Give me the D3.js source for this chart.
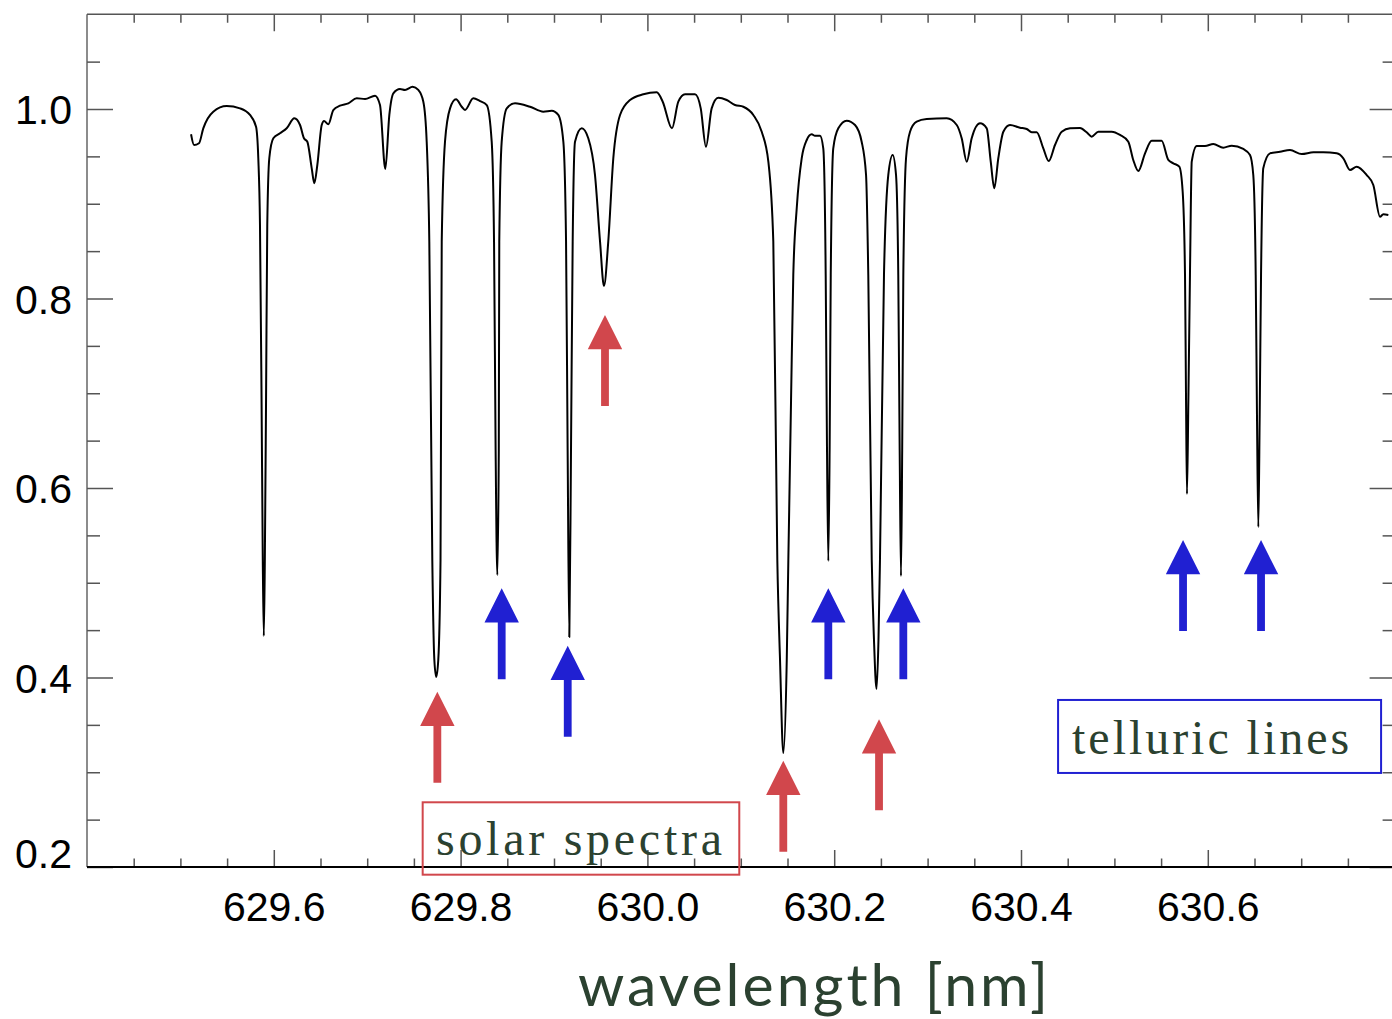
<!DOCTYPE html>
<html>
<head>
<meta charset="utf-8">
<script src="https://cdn.jsdelivr.net/npm/d3@7"></script>
<style>
body { margin: 0; background: #fff; }
.axis text { font-family: "Liberation Sans", Arial, Helvetica, sans-serif; font-size: 41px; fill: #000; }
.axis line { stroke: #555; stroke-width: 1.5; }
.axis path { display: none; }
</style>
</head>
<body>
<div id="chart"></div>
<script>
// spectrum: wavelength [nm] and normalised intensity
const wavelength = [
    629.5114, 629.5146, 629.5199, 629.5245, 629.5352, 629.5496, 629.5638, 629.5745, 629.5810, 629.5834,
    629.5852, 629.5869, 629.5882, 629.5893, 629.5904, 629.5917, 629.5930, 629.5952, 629.5995, 629.6066,
    629.6138, 629.6220, 629.6281, 629.6323, 629.6359, 629.6406, 629.6434, 629.6466, 629.6513, 629.6538,
    629.6584, 629.6637, 629.6709, 629.6798, 629.6888, 629.6977, 629.7084, 629.7137, 629.7194, 629.7237,
    629.7280, 629.7351, 629.7405, 629.7487, 629.7547, 629.7601, 629.7637, 629.7665, 629.7697, 629.7719,
    629.7739, 629.7761, 629.7785, 629.7798, 629.7833, 629.7887, 629.7951, 629.8012, 629.8047, 629.8136,
    629.8208, 629.8280, 629.8333, 629.8358, 629.8375, 629.8393, 629.8409, 629.8414, 629.8440, 629.8494,
    629.8583, 629.8743, 629.8886, 629.8976, 629.9046, 629.9100, 629.9129, 629.9146, 629.9164, 629.9182,
    629.9200, 629.9225, 629.9297, 629.9367, 629.9439, 629.9493, 629.9535, 629.9581, 629.9635, 629.9707,
    629.9814, 629.9956, 630.0100, 630.0164, 630.0263, 630.0331, 630.0403, 630.0510, 630.0571, 630.0627,
    630.0688, 630.0759, 630.0849, 630.0938, 630.1027, 630.1134, 630.1224, 630.1295, 630.1348, 630.1391,
    630.1420, 630.1455, 630.1492, 630.1509, 630.1538, 630.1562, 630.1599, 630.1652, 630.1706, 630.1759,
    630.1794, 630.1848, 630.1883, 630.1909, 630.1923, 630.1937, 630.1951, 630.1963, 630.1990, 630.2044,
    630.2134, 630.2223, 630.2294, 630.2341, 630.2365, 630.2402, 630.2426, 630.2453, 630.2474, 630.2490,
    630.2533, 630.2579, 630.2626, 630.2662, 630.2686, 630.2701, 630.2715, 630.2728, 630.2740, 630.2769,
    630.2812, 630.2883, 630.2990, 630.3205, 630.3312, 630.3365, 630.3419, 630.3472, 630.3561, 630.3633,
    630.3676, 630.3714, 630.3757, 630.3811, 630.3882, 630.3989, 630.4061, 630.4115, 630.4168, 630.4239,
    630.4297, 630.4364, 630.4436, 630.4525, 630.4632, 630.4703, 630.4757, 630.4828, 630.4971, 630.5060,
    630.5149, 630.5202, 630.5256, 630.5328, 630.5399, 630.5506, 630.5577, 630.5631, 630.5695, 630.5731,
    630.5756, 630.5767, 630.5777, 630.5792, 630.5809, 630.5828, 630.5881, 630.5970, 630.6059, 630.6166,
    630.6256, 630.6380, 630.6452, 630.6487, 630.6513, 630.6527, 630.6541, 630.6555, 630.6570, 630.6594,
    630.6666, 630.6773, 630.6880, 630.7005, 630.7130, 630.7237, 630.7380, 630.7451, 630.7522, 630.7594,
    630.7701, 630.7772, 630.7844, 630.7879, 630.7933
]
const intensity = [
    0.9733, 0.9620, 0.9638, 0.9796, 0.9972, 1.0032, 1.0007, 0.9937, 0.9813, 0.9480,
    0.8776, 0.6929, 0.5240, 0.4438, 0.5240, 0.6929, 0.8776, 0.9483, 0.9691, 0.9744,
    0.9796, 0.9902, 0.9831, 0.9691, 0.9655, 0.9374, 0.9216, 0.9409, 0.9831, 0.9873,
    0.9839, 0.9989, 1.0035, 1.0060, 1.0113, 1.0106, 1.0140, 1.0042, 0.9367, 0.9937,
    1.0166, 1.0211, 1.0201, 1.0235, 1.0201, 1.0077, 0.9655, 0.8600, 0.5240, 0.4185,
    0.4006, 0.4185, 0.5240, 0.8600, 0.9655, 1.0007, 1.0102, 1.0024, 0.9989, 1.0113,
    1.0084, 1.0042, 0.9655, 0.8600, 0.6401, 0.5082, 0.6401, 0.8600, 0.9655, 1.0007,
    1.0060, 1.0024, 0.9972, 0.9982, 0.9937, 0.9655, 0.8600, 0.6401, 0.4428, 0.6401,
    0.8600, 0.9655, 0.9796, 0.9691, 0.9303, 0.8600, 0.8132, 0.8600, 0.9480, 0.9937,
    1.0095, 1.0155, 1.0176, 1.0077, 0.9796, 1.0077, 1.0155, 1.0155, 1.0007, 0.9602,
    1.0007, 1.0119, 1.0095, 1.0042, 1.0024, 0.9937, 0.9760, 0.9444, 0.8600, 0.5240,
    0.4185, 0.3203, 0.4185, 0.5240, 0.6929, 0.8248, 0.8955, 0.9480, 0.9673, 0.9733,
    0.9718, 0.9718, 0.9585, 0.8248, 0.6401, 0.5230, 0.6401, 0.8248, 0.9585, 0.9796,
    0.9877, 0.9831, 0.9655, 0.9303, 0.8248, 0.5240, 0.4396, 0.3879, 0.4396, 0.5240,
    0.8248, 0.9303, 0.9515, 0.9303, 0.8248, 0.6401, 0.5071, 0.6401, 0.8248, 0.9480,
    0.9760, 0.9866, 0.9894, 0.9902, 0.9831, 0.9691, 0.9444, 0.9691, 0.9849, 0.9796,
    0.9444, 0.9163, 0.9480, 0.9760, 0.9831, 0.9803, 0.9789, 0.9754, 0.9754, 0.9585,
    0.9451, 0.9620, 0.9760, 0.9796, 0.9799, 0.9754, 0.9708, 0.9760, 0.9760, 0.9726,
    0.9655, 0.9462, 0.9346, 0.9532, 0.9665, 0.9665, 0.9462, 0.9427, 0.9391, 0.9127,
    0.8248, 0.6929, 0.5937, 0.6929, 0.8248, 0.9444, 0.9610, 0.9610, 0.9631, 0.9592,
    0.9613, 0.9578, 0.9515, 0.9303, 0.8248, 0.6718, 0.5589, 0.6718, 0.8248, 0.9374,
    0.9532, 0.9549, 0.9567, 0.9525, 0.9543, 0.9543, 0.9532, 0.9480, 0.9356, 0.9391,
    0.9303, 0.9198, 0.8863, 0.8889, 0.8882
]

// arrows: line position and the level of the arrow tip
const solarLines = [629.7751, 629.9546, 630.1455, 630.2480]
const solarTips = [0.3850, 0.7826, 0.3122, 0.3559]
const telluricLines = [629.8440, 629.9147, 630.1937, 630.2740, 630.5735, 630.6570]
const telluricTips = [0.4942, 0.4336, 0.4942, 0.4942, 0.5451, 0.5451]

const xTicks = [629.6, 629.8, 630.0, 630.2, 630.4, 630.6]
const yTicks = [0.2, 0.4, 0.6, 0.8, 1.0]
const xMinor = d3.range(629.45, 630.8, 0.05).filter(v => xTicks.every(t => Math.abs(t - v) > 1e-6))
const yMinor = d3.range(0.25, 1.1, 0.05).filter(v => yTicks.every(t => Math.abs(t - v) > 1e-6))

const RED = "#d1474c"
const BLUE = "#2020d2"
const TEXT_GREEN = "#2b4130"

var plotW = 1392,
    plotH = 1019,
    padL = 87,
    padR = 1394.6,
    padT = 14.25,
    padB = 867

var x = d3.scaleLinear().domain([629.4, 630.8]).range([padL, padR])
var y = d3.scaleLinear().domain([0.2, 1.1]).range([padB, padT])

var svg = d3.select("#chart").append("svg")
    .attr("width", plotW)
    .attr("height", plotH)

// frame
svg.append("line").attr("x1", padL).attr("x2", padL).attr("y1", padT).attr("y2", padB)
    .attr("stroke", "#666").attr("stroke-width", 1.5)
svg.append("line").attr("x1", padL).attr("x2", padR).attr("y1", padT).attr("y2", padT)
    .attr("stroke", "#555").attr("stroke-width", 1.5)
svg.append("line").attr("x1", padR).attr("x2", padR).attr("y1", padT).attr("y2", padB)
    .attr("stroke", "#555").attr("stroke-width", 1.5)

// bottom axis
svg.append("g").attr("class", "axis")
    .attr("transform", "translate(0," + padB + ")")
    .call(d3.axisBottom(x).tickValues(xTicks).tickSize(-17).tickSizeOuter(0).tickPadding(25)
        .tickFormat(d3.format(".1f")))
svg.append("g").attr("class", "axis")
    .attr("transform", "translate(0," + padB + ")")
    .call(d3.axisBottom(x).tickValues(xMinor).tickSize(-8.5).tickSizeOuter(0).tickFormat(""))

// top axis
svg.append("g").attr("class", "axis")
    .attr("transform", "translate(0," + padT + ")")
    .call(d3.axisTop(x).tickValues(xTicks).tickSize(-17).tickSizeOuter(0).tickFormat(""))
svg.append("g").attr("class", "axis")
    .attr("transform", "translate(0," + padT + ")")
    .call(d3.axisTop(x).tickValues(xMinor).tickSize(-8.5).tickSizeOuter(0).tickFormat(""))

// left axis
var yAxisG = svg.append("g").attr("class", "axis")
    .attr("transform", "translate(" + padL + ",0)")
    .call(d3.axisLeft(y).tickValues(yTicks).tickSize(-26).tickSizeOuter(0).tickPadding(15)
        .tickFormat(d3.format(".1f")))
yAxisG.selectAll("text").attr("dy", "0.36em")
yAxisG.selectAll("text").filter(d => d === 0.2).attr("dy", "0em")
svg.append("g").attr("class", "axis")
    .attr("transform", "translate(" + padL + ",0)")
    .call(d3.axisLeft(y).tickValues(yMinor).tickSize(-13).tickSizeOuter(0).tickFormat(""))

// right axis
svg.append("g").attr("class", "axis")
    .attr("transform", "translate(" + padR + ",0)")
    .call(d3.axisRight(y).tickValues(yTicks).tickSize(-25).tickSizeOuter(0).tickFormat(""))
svg.append("g").attr("class", "axis")
    .attr("transform", "translate(" + padR + ",0)")
    .call(d3.axisRight(y).tickValues(yMinor).tickSize(-12).tickSizeOuter(0).tickFormat(""))

// bottom frame line is black
svg.append("line").attr("x1", padL).attr("x2", padR).attr("y1", padB).attr("y2", padB)
    .attr("stroke", "#000").attr("stroke-width", 1.8)

// spectrum
var spectrum = wavelength.map((w, i) => [w, intensity[i]])
var line = d3.line()
    .x(d => x(d[0]))
    .y(d => y(d[1]))
    .curve(d3.curveMonotoneX)

svg.append("path")
    .datum(spectrum)
    .attr("d", line)
    .attr("fill", "none")
    .attr("stroke", "#000")
    .attr("stroke-width", 2)
    .attr("stroke-linejoin", "round")

// arrows pointing up at the lines
function arrowPath(cx, ty) {
    var hw = 17.2, hh = 34.3, sw = 3.9, len = 91
    return "M" + cx + "," + ty +
        "L" + (cx + hw) + "," + (ty + hh) +
        "L" + (cx + sw) + "," + (ty + hh) +
        "L" + (cx + sw) + "," + (ty + len) +
        "L" + (cx - sw) + "," + (ty + len) +
        "L" + (cx - sw) + "," + (ty + hh) +
        "L" + (cx - hw) + "," + (ty + hh) + "Z"
}

svg.selectAll(".solar-arrow")
    .data(solarLines)
    .enter().append("path")
    .attr("class", "solar-arrow")
    .attr("d", (d, i) => arrowPath(x(d), y(solarTips[i])))
    .attr("fill", RED)

svg.selectAll(".telluric-arrow")
    .data(telluricLines)
    .enter().append("path")
    .attr("class", "telluric-arrow")
    .attr("d", (d, i) => arrowPath(x(d), y(telluricTips[i])))
    .attr("fill", BLUE)

// labelled boxes
var labels = [
    { text: "solar spectra", x: 629.7594, y: 0.2683, w: 316.6, h: 72.4, color: RED, tx: 13.3, ty: 52.7, tl: 286 },
    { text: "telluric lines", x: 630.4397, y: 0.3763, w: 323, h: 73, color: BLUE, tx: 14, ty: 54, tl: 277 }
]

labels.forEach(l => {
    var bx = x(l.x), by = y(l.y)
    svg.append("rect")
        .attr("x", bx).attr("y", by)
        .attr("width", l.w).attr("height", l.h)
        .attr("fill", "none")
        .attr("stroke", l.color)
        .attr("stroke-width", 2)
    svg.append("text")
        .attr("x", bx + l.tx).attr("y", by + l.ty)
        .attr("textLength", l.tl)
        .attr("lengthAdjust", "spacing")
        .style("font-family", "'Liberation Serif', 'Times New Roman', serif")
        .style("font-size", "48px")
        .style("fill", TEXT_GREEN)
        .text(l.text)
})

// axis title
svg.append("text")
    .attr("x", 578)
    .attr("y", 1006)
    .attr("textLength", 470)
    .attr("lengthAdjust", "spacing")
    .style("font-family", "Lato, 'Noto Sans', sans-serif")
    .style("font-size", "59px")
    .style("fill", TEXT_GREEN)
    .text("wavelength [nm]")
</script>
</body>
</html>
